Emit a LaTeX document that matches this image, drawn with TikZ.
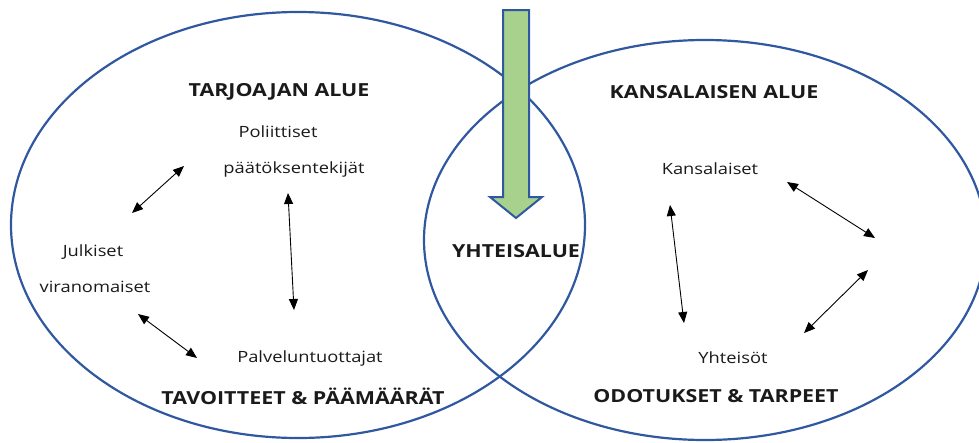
\documentclass[tikz,border=0pt]{standalone}
\usepackage{fontspec}
\setmainfont{Open Sans}
\newfontfamily\headfont{Open Sans}[FakeStretch=1.19]
\newfontfamily\bodyfont{Open Sans}[FakeStretch=1.18]
\usetikzlibrary{arrows.meta}
\definecolor{ringblue}{HTML}{3058A0}
\definecolor{arrowgreen}{HTML}{A9D18E}
\definecolor{textgray}{HTML}{1A1A1A}
\tikzset{
  ring/.style={draw=ringblue, line width=2.2pt},
  head/.style={font=\headfont\fontsize{18}{21}\selectfont\bfseries, inner sep=0pt, text=textgray},
  label/.style={font=\bodyfont\fontsize{15.5}{18}\selectfont, inner sep=0pt, text=textgray},
  link/.style={{Triangle[length=11pt,width=9pt]}-{Triangle[length=11pt,width=9pt]}, line width=0.9pt},
  bigarrow/.style={draw=ringblue, fill=arrowgreen, line width=2pt, line join=miter}
}
\begin{document}
\begin{tikzpicture}[x=1pt,y=-1pt]
\useasboundingbox (0,0) rectangle (979,442);
% rings
\draw[ring] (298,225) ellipse [x radius=287, y radius=213];
\draw[ring] (705,240) ellipse [x radius=281, y radius=200];
% big arrow
\draw[bigarrow] (503,10) -- (529,10) -- (529,197) -- (542,197) -- (516,218) -- (490,197) -- (503,197) -- cycle;
% headings
\node[head] (tarj) at (279,92) {TARJOAJAN ALUE};
\node[head] (kans) at (714,92) {KANSALAISEN ALUE};
\node[head] (yht) at (516,251) {YHTEISALUE};
\node[head] (tav) at (303,396) {TAVOITTEET \& PÄÄMÄÄRÄT};
\node[head] (odo) at (716,396) {ODOTUKSET \& TARPEET};
% labels
\node[label] (pol) at (278,132) {Poliittiset};
\node[label] (paa) at (294,169) {päätöksentekijät};
\node[label] (julk) at (93,252) {Julkiset};
\node[label] (vir) at (95,287) {viranomaiset};
\node[label] (palv) at (310,358) {Palveluntuottajat};
\node[label] (kan) at (710,169) {Kansalaiset};
\node[label] (yhts) at (733,358) {Yhteisöt};
% arrow end points
\coordinate (a1s) at (132,213); \coordinate (a1e) at (184,166);
\coordinate (a2s) at (288,193); \coordinate (a2e) at (294,310);
\coordinate (a3s) at (138,314); \coordinate (a3e) at (197,358);
\coordinate (a4s) at (670,205); \coordinate (a4e) at (684,323);
\coordinate (a5s) at (787,182); \coordinate (a5e) at (875,238);
\coordinate (a6s) at (868,270); \coordinate (a6e) at (804,333);
\draw[link] (a1s) -- (a1e);
\draw[link] (a2s) -- (a2e);
\draw[link] (a3s) -- (a3e);
\draw[link] (a4s) -- (a4e);
\draw[link] (a5s) -- (a5e);
\draw[link] (a6s) -- (a6e);
\end{tikzpicture}
\end{document}
